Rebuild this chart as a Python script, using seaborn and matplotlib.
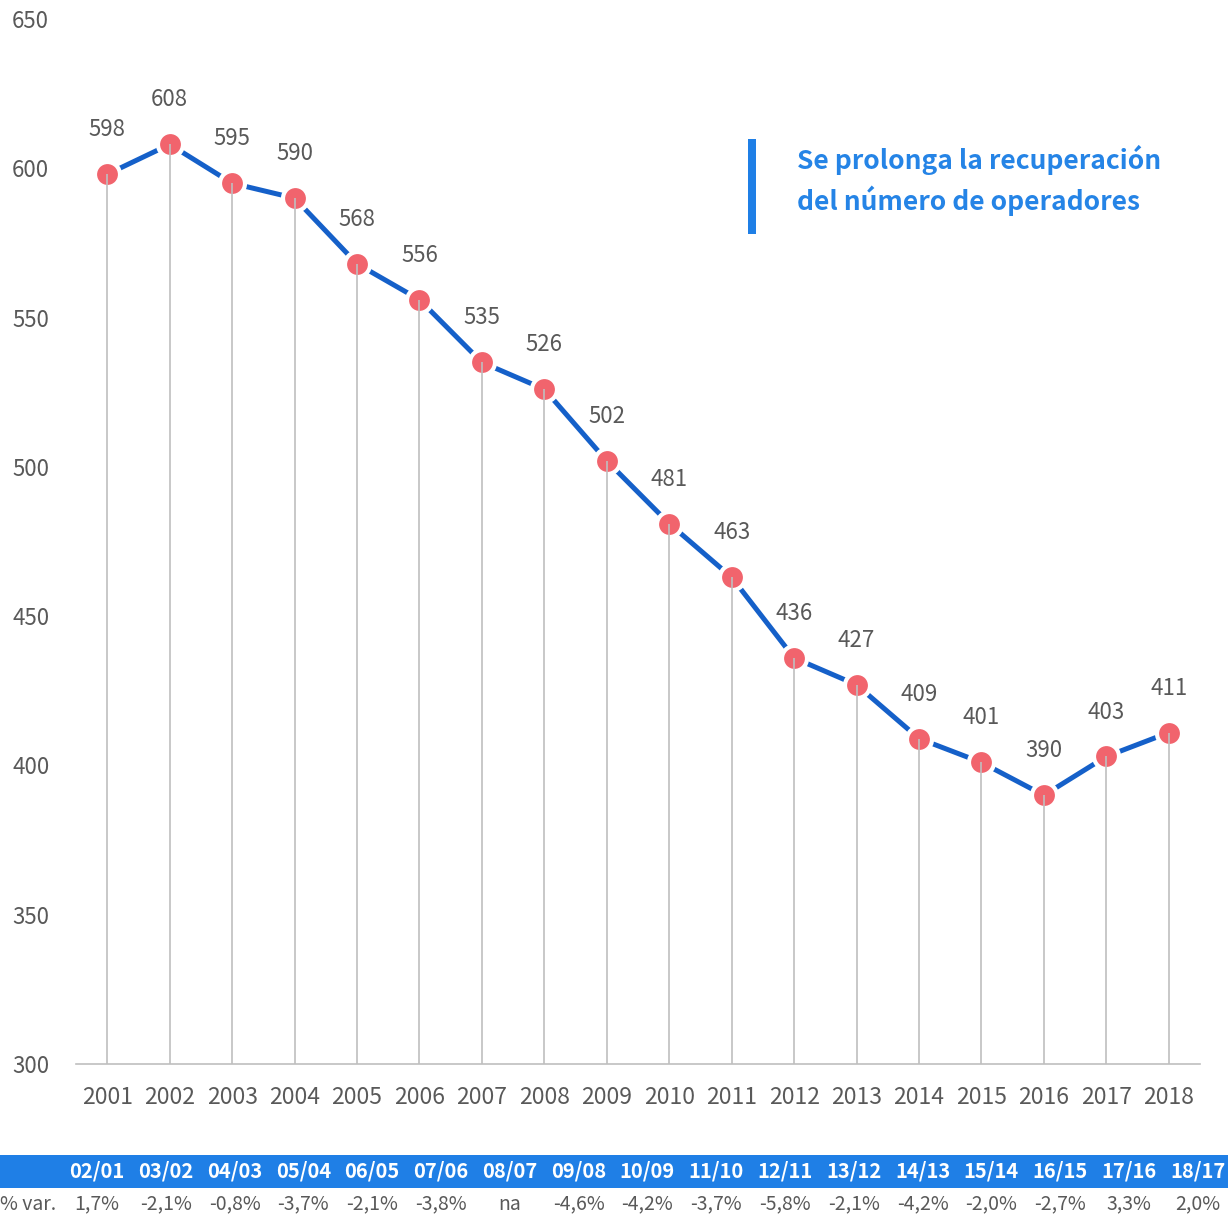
import pandas as pd
import seaborn as sns
import matplotlib.pyplot as plt
from matplotlib.patches import Rectangle

sns.set_theme(style="white")
plt.rcParams['font.family'] = ['Noto Sans CJK JP', 'DejaVu Sans']

years = ["2001", "2002", "2003", "2004", "2005", "2006", "2007", "2008", "2009",
         "2010", "2011", "2012", "2013", "2014", "2015", "2016", "2017", "2018"]
operators = [598, 608, 595, 590, 568, 556, 535, 526, 502,
             481, 463, 436, 427, 409, 401, 390, 403, 411]
periods = ["02/01", "03/02", "04/03", "05/04", "06/05", "07/06", "08/07", "09/08", "10/09",
           "11/10", "12/11", "13/12", "14/13", "15/14", "16/15", "17/16", "18/17"]
pct_var = ["1,7%", "-2,1%", "-0,8%", "-3,7%", "-2,1%", "-3,8%", "na", "-4,6%", "-4,2%",
           "-3,7%", "-5,8%", "-2,1%", "-4,2%", "-2,0%", "-2,7%", "3,3%", "2,0%"]

LINE = "#1560C9"
DOT = "#F1646D"
GREY_TXT = "#595959"
BAND = "#1F7FE6"

df = pd.DataFrame({"Year": years, "Operators": operators})

fig = plt.figure(figsize=(12.28, 12.16), dpi=100)
ax = fig.add_axes([76 / 1228, 1 - 1064 / 1216, 1124 / 1228, 1045 / 1216])

sns.lineplot(data=df, x="Year", y="Operators", sort=False, color=LINE, linewidth=3.6,
             marker="o", markersize=18, markerfacecolor=DOT, markeredgecolor="white",
             markeredgewidth=3, ax=ax, zorder=3)
# drop lines from each point to the axis
ax.vlines(df["Year"], 300, df["Operators"], color="#BFBFBF", linewidth=1.2, zorder=4)

for yr, v in zip(df["Year"], df["Operators"]):
    ax.annotate(f"{v}", (yr, v), xytext=(0, 32), textcoords="offset points",
                ha="center", va="center", fontsize=16, color=GREY_TXT)

ax.set_ylim(300, 650)
ax.set_xlim(-0.5, len(years) - 0.5)
ax.set_yticks(range(300, 651, 50))
ax.set_xlabel("")
ax.set_ylabel("")
ax.grid(False)
for s in ["top", "right", "left"]:
    ax.spines[s].set_visible(False)
ax.spines["bottom"].set_color("#BFBFBF")
ax.spines["bottom"].set_linewidth(1.2)
ax.tick_params(axis="y", length=0, pad=46, labelsize=16, labelcolor=GREY_TXT)
ax.tick_params(axis="x", length=0, pad=16, labelsize=16.5, labelcolor=GREY_TXT)
for lab in ax.get_yticklabels():
    lab.set_horizontalalignment("left")

# variation table below the chart (17 columns after the "% var." column)
fig.patches.append(Rectangle((0, 1 - 1188 / 1216), 1, 33 / 1216, transform=fig.transFigure,
                             facecolor=BAND, edgecolor="none", zorder=0))
col_w = 68.8
for i, (p, v) in enumerate(zip(periods, pct_var)):
    cx = (97 + col_w * i) / 1228
    fig.text(cx, 1 - 1171 / 1216, p, ha="center", va="center",
             fontsize=14.5, fontweight="bold", color="white")
    fig.text(cx, 1 - 1204 / 1216, v, ha="center", va="center",
             fontsize=14, color=GREY_TXT)
fig.text(0, 1 - 1204 / 1216, "% var.", ha="left", va="center", fontsize=14, color=GREY_TXT)

# highlighted message
fig.patches.append(Rectangle((748 / 1228, 1 - 234 / 1216), 8 / 1228, 95 / 1216,
                             transform=fig.transFigure, facecolor=BAND, edgecolor="none"))
fig.text(797 / 1228, 1 - 160 / 1216, "Se prolonga la recuperación", ha="left", va="center",
         fontsize=19, fontweight="bold", color="#2584E6")
fig.text(797 / 1228, 1 - 201 / 1216, "del número de operadores", ha="left", va="center",
         fontsize=19, fontweight="bold", color="#2584E6")

fig.savefig("out.png", dpi=100)
